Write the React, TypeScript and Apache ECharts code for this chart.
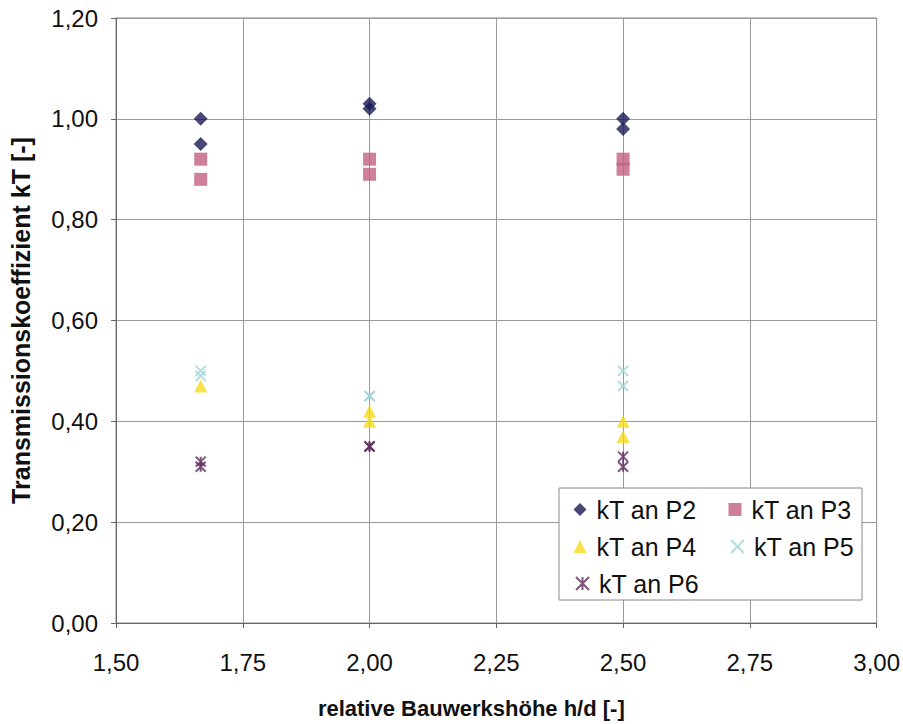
import React, { useEffect, useRef } from "react";
import * as echarts from "echarts";

const xP2 = [1.667, 1.667, 2.0, 2.0, 2.5, 2.5];
const yP2 = [1.0, 0.95, 1.03, 1.02, 1.0, 0.98];
const xP3 = [1.667, 1.667, 2.0, 2.0, 2.5, 2.5];
const yP3 = [0.92, 0.88, 0.92, 0.89, 0.92, 0.9];
const xP4 = [1.667, 2.0, 2.0, 2.5, 2.5];
const yP4 = [0.47, 0.42, 0.4, 0.4, 0.37];
const xP5 = [1.667, 1.667, 2.0, 2.0, 2.5, 2.5];
const yP5 = [0.5, 0.49, 0.45, 0.45, 0.5, 0.47];
const xP6 = [1.667, 1.667, 2.0, 2.0, 2.5, 2.5];
const yP6 = [0.32, 0.31, 0.35, 0.35, 0.33, 0.31];

const names = ["kT an P2", "kT an P3", "kT an P4", "kT an P5", "kT an P6"];
const xName = "relative Bauwerkshöhe h/d [-]";
const yName = "Transmissionskoeffizient kT [-]";

const FONT = "Liberation Sans, Arial, sans-serif";
const fmt = (v: number) => v.toFixed(2).replace(".", ",");
const zip = (xs: number[], ys: number[]) => xs.map((x, i) => [x, ys[i]]);

const crossPath = "path://M0 0 L10 10 M10 0 L0 10";
const starPath = "path://M0 0 L10 10 M10 0 L0 10 M5 0 L5 10";

export default function App() {
  const ref = useRef<HTMLDivElement>(null);
  useEffect(() => {
    const chart = echarts.init(ref.current!, null, { renderer: "svg" });
    const legendText = { fontFamily: FONT, fontSize: 25, color: "#111", padding: [0, 0, 0, 5] };
    const mkLegend = (name: string, left: number, top: number) => ({
      data: [name],
      left,
      top,
      itemWidth: 13,
      itemHeight: 13,
      itemGap: 0,
      textStyle: legendText,
      padding: 0,
      z: 20,
    });
    chart.setOption({
      animation: false,
      backgroundColor: "#fff",
      grid: {
        left: 115,
        right: 26,
        top: 18,
        bottom: 99,
        show: true,
        borderColor: "#888",
        borderWidth: 1,
      },
      xAxis: {
        type: "value",
        min: 1.5,
        max: 3.0,
        interval: 0.25,
        name: xName,
        nameLocation: "middle",
        nameGap: 74,
        nameTextStyle: {
          fontFamily: FONT,
          fontSize: 22,
          fontWeight: "bold",
          color: "#111",
          padding: [0, 50, 0, 0],
        },
        axisLine: { lineStyle: { color: "#666" } },
        axisTick: { show: true, length: 5, lineStyle: { color: "#666" } },
        axisLabel: { formatter: fmt, fontFamily: FONT, fontSize: 24, color: "#111", margin: 27 },
        splitLine: { lineStyle: { color: "#999" } },
      },
      yAxis: {
        type: "value",
        min: 0,
        max: 1.2,
        interval: 0.2,
        name: yName,
        nameLocation: "middle",
        nameGap: 83,
        nameTextStyle: { fontFamily: FONT, fontSize: 25, fontWeight: "bold", color: "#111" },
        axisLine: { show: true, lineStyle: { color: "#666" } },
        axisTick: { show: true, length: 5, lineStyle: { color: "#666" } },
        axisLabel: { formatter: fmt, fontFamily: FONT, fontSize: 24, color: "#111", margin: 18 },
        splitLine: { lineStyle: { color: "#999" } },
      },
      graphic: [
        {
          type: "rect",
          shape: { x: 559, y: 488, width: 303, height: 112 },
          style: { fill: "#fff", stroke: "#888", lineWidth: 1 },
          z: 10,
        },
      ],
      legend: [
        mkLegend(names[0], 573.5, 497),
        mkLegend(names[1], 728.5, 497),
        mkLegend(names[2], 573.5, 534),
        mkLegend(names[3], 728.5, 534),
        mkLegend(names[4], 573.5, 571),
      ],
      series: [
        {
          name: names[0],
          type: "scatter",
          symbol: "diamond",
          symbolSize: 14,
          itemStyle: { color: "#1a1a55" },
          data: zip(xP2, yP2),
        },
        {
          name: names[1],
          type: "scatter",
          symbol: "rect",
          symbolSize: 13,
          itemStyle: { color: "#c0607e" },
          data: zip(xP3, yP3),
        },
        {
          name: names[2],
          type: "scatter",
          symbol: "triangle",
          symbolSize: 13,
          itemStyle: { color: "#f5dc1a" },
          data: zip(xP4, yP4),
        },
        {
          name: names[3],
          type: "scatter",
          symbol: crossPath,
          symbolSize: 10,
          itemStyle: { color: "none", borderColor: "#9fd4d4", borderWidth: 2 },
          data: zip(xP5, yP5),
        },
        {
          name: names[4],
          type: "scatter",
          symbol: starPath,
          symbolSize: 10,
          itemStyle: { color: "none", borderColor: "#5c2a5c", borderWidth: 2 },
          data: zip(xP6, yP6),
        },
      ],
    });
    return () => chart.dispose();
  }, []);
  return <div ref={ref} style={{ width: 903, height: 724, position: "absolute", left: 0, top: 0 }} />;
}
